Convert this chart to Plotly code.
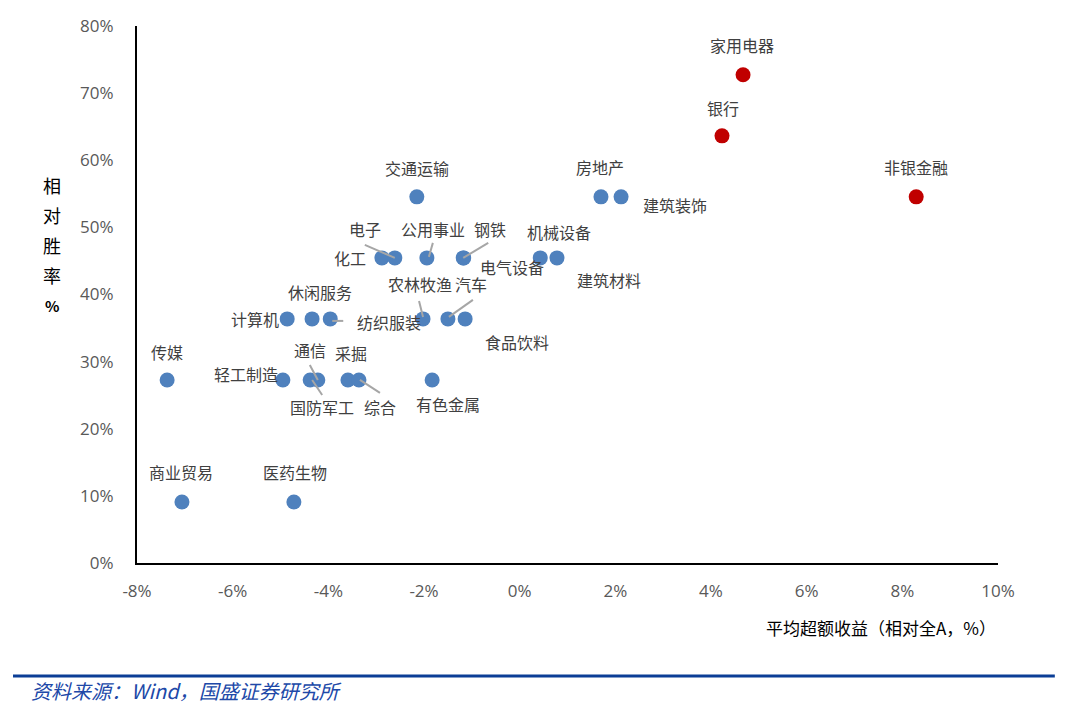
import plotly.graph_objects as go

# ---------------- data ----------------
industries = ["家用电器", "银行", "非银金融", "交通运输", "房地产", "建筑装饰",
              "化工", "电子", "公用事业", "钢铁", "电气设备", "机械设备", "建筑材料",
              "计算机", "休闲服务", "纺织服装", "农林牧渔", "汽车", "食品饮料",
              "传媒", "轻工制造", "国防军工", "通信", "采掘", "综合", "有色金属",
              "商业贸易", "医药生物"]
excess_return = [4.67, 4.23, 8.29, -2.15, 1.70, 2.12,
                 -2.88, -2.61, -1.94, -1.18, -1.17, 0.43, 0.78,
                 -4.86, -4.34, -3.96, -2.02, -1.50, -1.14,
                 -7.37, -4.95, -4.38, -4.22, -3.59, -3.36, -1.83,
                 -7.06, -4.72]
win_rate = [8/11, 7/11, 6/11, 6/11, 6/11, 6/11,
            5/11, 5/11, 5/11, 5/11, 5/11, 5/11, 5/11,
            4/11, 4/11, 4/11, 4/11, 4/11, 4/11,
            3/11, 3/11, 3/11, 3/11, 3/11, 3/11, 3/11,
            1/11, 1/11]
win_rate_pct = [v * 100 for v in win_rate]
highlighted = ["家用电器", "银行", "非银金融"]

x_ticks = [-8, -6, -4, -2, 0, 2, 4, 6, 8, 10]
y_ticks = [0, 10, 20, 30, 40, 50, 60, 70, 80]
y_title_chars = ["相", "对", "胜", "率", "%"]

# ---------------- label styling (screen pixel offsets) ----------------
label_offset = {
    "家用电器": (-1, -30), "银行": (1, -28), "非银金融": (0, -30),
    "交通运输": (0, -29), "房地产": (-1, -30), "建筑装饰": (54, 8),
    "化工": (-32, 0), "电子": (-30, -29), "公用事业": (6, -29),
    "钢铁": (27, -29), "电气设备": (48, 9), "机械设备": (19, -26),
    "建筑材料": (52, 22), "计算机": (-32, 0), "休闲服务": (8, -27),
    "纺织服装": (59, 3), "农林牧渔": (-3, -35), "汽车": (23, -35),
    "食品饮料": (52, 23), "传媒": (0, -28), "轻工制造": (-37, -6),
    "国防军工": (12, 27), "通信": (-8, -30), "采掘": (3, -27),
    "综合": (21, 27), "有色金属": (16, 24), "商业贸易": (-1, -30),
    "医药生物": (1, -30),
}
leader = {
    "电子": (-30, -13, 0, 0),
    "公用事业": (6, -15, 2, -1),
    "钢铁": (25, -15, 0, 0),
    "纺织服装": (2, 2, 13, 2),
    "农林牧渔": (-4, -18, 0, -2),
    "汽车": (25, -19, 1, -2),
    "通信": (-8, -15, 0, 0),
    "国防军工": (2, 0, 12, 15),
    "综合": (1, 0, 21, 13),
}

BLUE = "#4F81BD"
RED = "#C00000"
colors = [RED if n in highlighted else BLUE for n in industries]

fig = go.Figure()

shapes = []
for name, (x0, y0, x1, y1) in leader.items():
    i = industries.index(name)
    shapes.append(dict(type="line", xref="x", yref="y",
                       xsizemode="pixel", ysizemode="pixel",
                       xanchor=excess_return[i], yanchor=win_rate_pct[i],
                       x0=x0, x1=x1, y0=-y0, y1=-y1,
                       line=dict(color="#A6A6A6", width=2), layer="above"))

fig.add_trace(go.Scatter(
    x=excess_return, y=win_rate_pct, mode="markers",
    marker=dict(size=15, color=colors, line=dict(width=0)),
    text=industries, hoverinfo="text", showlegend=False,
))

annotations = []
for i, name in enumerate(industries):
    dx, dy = label_offset[name]
    annotations.append(dict(
        x=excess_return[i], y=win_rate_pct[i], xref="x", yref="y",
        text=name, showarrow=False, xshift=dx, yshift=-dy,
        xanchor="center", yanchor="middle",
        font=dict(family="Noto Sans CJK SC", size=16, color="#404040"),
    ))

# vertical y-axis title, one character per line
for k, ch in enumerate(y_title_chars):
    annotations.append(dict(
        x=-0.0987, y=(563 - (185 + 30 * k)) / 537, xref="paper", yref="paper",
        text=f"<b>{ch}</b>" if ch == "%" else ch, showarrow=False,
        xanchor="center", yanchor="middle",
        font=dict(family="Noto Sans CJK SC", size=18 if ch != "%" else 15,
                  color="#000000"),
    ))
annotations.append(dict(
    x=1.0, y=-0.121, xref="paper", yref="paper",
    text="平均超额收益（相对全A，%）", showarrow=False,
    xanchor="right", yanchor="middle",
    font=dict(family="Noto Sans CJK SC", size=17, color="#000000"),
))
annotations.append(dict(
    x=-0.126, y=-0.2365, xref="paper", yref="paper",
    text="<i>资料来源：Wind，国盛证券研究所</i>", showarrow=False,
    xanchor="left", yanchor="middle",
    font=dict(family="Noto Sans CJK SC", size=20, color="#2048A8"),
))

shapes.append(dict(type="line", xref="paper", yref="paper",
                   x0=-0.144, x1=1.066, y0=-0.2104, y1=-0.2104,
                   line=dict(color="#0B3E96", width=3)))

fig.update_layout(
    width=1070, height=727,
    margin=dict(l=137, r=72, t=26, b=164),
    paper_bgcolor="white", plot_bgcolor="white",
    shapes=shapes, annotations=annotations,
    xaxis=dict(range=[-8, 10], tickvals=x_ticks,
               ticktext=[f"{v}%" for v in x_ticks],
               showgrid=False, zeroline=False,
               showline=True, linecolor="#000000", linewidth=2,
               ticks="", ticklabelstandoff=12,
               tickfont=dict(family="Open Sans", size=17, color="#595959")),
    yaxis=dict(range=[0, 80], tickvals=y_ticks,
               ticktext=[f"{v}%" for v in y_ticks],
               showgrid=False, zeroline=False,
               showline=True, linecolor="#000000", linewidth=2,
               ticks="", ticklabelstandoff=18,
               tickfont=dict(family="Open Sans", size=17, color="#595959")),
)

fig.write_html("out.html")
